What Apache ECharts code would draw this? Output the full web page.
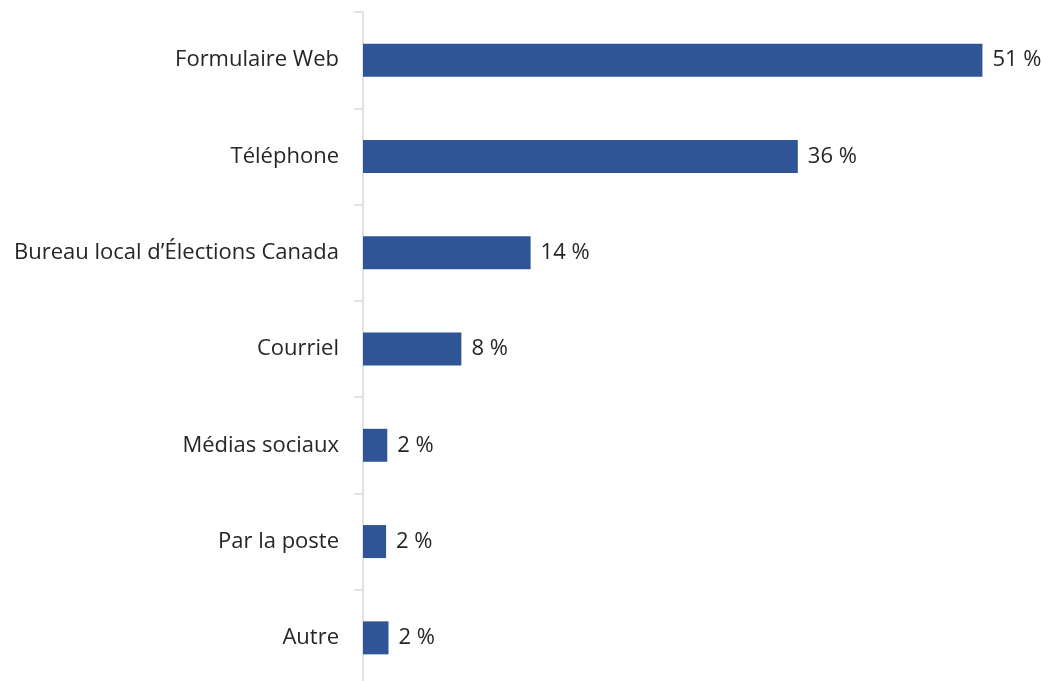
<!DOCTYPE html>
<html><head><meta charset="utf-8">
<script src="https://cdn.jsdelivr.net/npm/echarts@6/dist/echarts.min.js"></script>
<style>html,body{margin:0;padding:0;background:#fff}#c{width:1043px;height:681px}</style>
</head><body><div id="c"></div>
<script>
const categories = ["Formulaire Web", "Téléphone", "Bureau local d’Élections Canada", "Courriel", "Médias sociaux", "Par la poste", "Autre"];
const values = [51, 35.8, 13.8, 8.1, 2.0, 1.9, 2.1];

const chart = echarts.init(document.getElementById('c'));
chart.setOption({
  animation: false,
  grid: { left: 363, top: 12, width: 668, height: 674, outerBoundsMode: 'none', containLabel: false },
  xAxis: { type: 'value', min: 0, max: 55, show: false },
  yAxis: {
    type: 'category', data: categories, inverse: true,
    axisLine: { show: true, lineStyle: { color: '#d9d9d9', width: 1.5 } },
    axisTick: { show: true, length: 9, lineStyle: { color: '#d9d9d9', width: 1.5 } },
    axisLabel: { margin: 24, fontFamily: 'Open Sans', fontSize: 22, color: '#262626' }
  },
  series: [{
    type: 'bar', data: values, barWidth: 33,
    itemStyle: { color: '#2F5597' },
    label: { show: true, position: 'right', distance: 10, fontFamily: 'Open Sans', fontSize: 22, color: '#262626',
      formatter: p => Math.round(p.value) + ' %' }
  }]
});
</script></body></html>
